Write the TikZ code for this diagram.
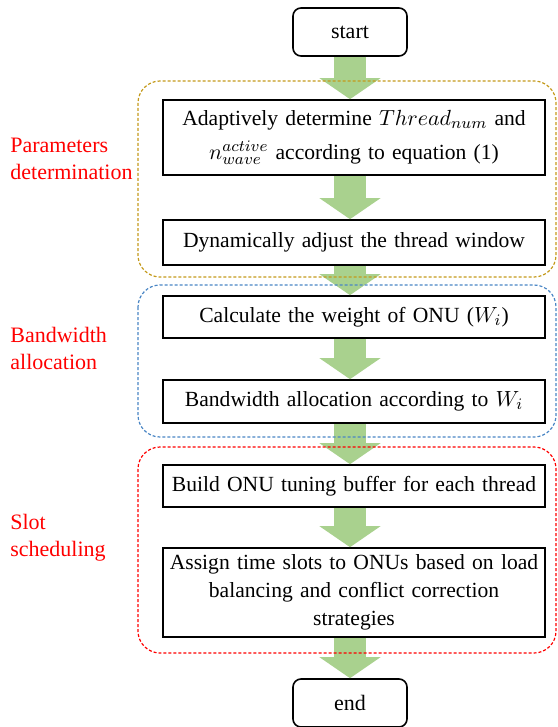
\documentclass[tikz,border=0pt]{standalone}
\usepackage{fontspec}
\setmainfont{Liberation Serif}
\usepackage{tikz}
\usetikzlibrary{positioning, arrows.meta}
\definecolor{leaf}{HTML}{A9D18E}
\definecolor{ochre}{HTML}{C49A1C}
\definecolor{sky}{HTML}{4A86C5}
\definecolor{alarm}{HTML}{FF0000}
\tikzset{
  blok/.style={draw=black, line width=0.8pt, fill=white, align=center,
               minimum width=191pt, text width=189pt, inner sep=1pt,
               font=\fontsize{10.8}{14}\selectfont},
  termi/.style={draw=black, line width=0.8pt, rounded corners=4pt, fill=white,
                minimum width=57pt, minimum height=24pt,
                font=\fontsize{11}{14}\selectfont},
  flow/.style={-{Triangle[length=10.5pt, width=30pt]}, line width=16pt, draw=leaf},
  grp/.style={dash pattern=on 1.5pt off 1pt, line width=0.6pt, rounded corners=11pt},
  lbl/.style={anchor=west, align=left, text=alarm, inner sep=0pt,
              font=\fontsize{11}{13.5}\selectfont},
}

\begin{document}
\begin{tikzpicture}[x=0.5pt, y=-0.5pt]
  \useasboundingbox (0,0) rectangle (557,727);
  % steps
  \node[termi] (start) at (350,32) {start};
  \node[blok, minimum height=37.5pt] (adapt) at (354,137.5)
    {Adaptively determine $Thread_{num}$ and\\[3pt]
     $n^{active}_{wave}$ according to equation (1)};
  \node[blok, minimum height=22.5pt] (window) at (354,242.5)
    {Dynamically adjust the thread window};
  \node[blok, minimum height=21pt] (weight) at (354,317)
    {Calculate the weight of ONU ($W_i$)};
  \node[blok, minimum height=21.5pt] (alloc) at (354,401.5)
    {Bandwidth allocation according to $W_i$};
  \node[blok, minimum height=21pt] (buffer) at (354,486)
    {Build ONU tuning buffer for each thread};
  \node[blok, minimum height=44.5pt] (assign) at (354,592.5)
    {Assign time slots to ONUs based on load\\
     balancing and conflict correction\\ strategies};
  \node[termi] (stop) at (350,703) {end};

  % fat arrows
  \foreach \a/\b in {start/adapt, adapt/window, window/weight, weight/alloc,
                     alloc/buffer, buffer/assign, assign/stop}
    \draw[flow] (\a.south -| start) -- (start |- \b.north);

  % stage frames
  \draw[grp, draw=ochre] (138,81) rectangle (556,277);
  \draw[grp, draw=sky] (138,285) rectangle (556,437);
  \draw[grp, draw=alarm] (138,447) rectangle (556,653);

  \node[lbl] (parlbl) at (10,158.5) {Parameters\\determination};
  \node[lbl] (bwlbl) at (10,348.5) {Bandwidth\\allocation};
  \node[lbl] (slotlbl) at (10,538) {Slot\\scheduling};
\end{tikzpicture}
\end{document}
